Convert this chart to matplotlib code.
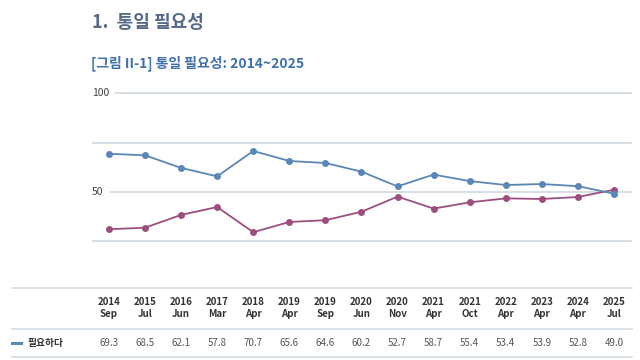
import matplotlib.pyplot as plt
from matplotlib.transforms import blended_transform_factory

plt.rcParams['font.family'] = ['Noto Sans CJK KR', 'DejaVu Sans']

years = ["2014", "2015", "2016", "2017", "2018", "2019", "2019", "2020",
         "2020", "2021", "2021", "2022", "2023", "2024", "2025"]
months = ["Sep", "Jul", "Jun", "Mar", "Apr", "Apr", "Sep", "Jun",
          "Nov", "Apr", "Oct", "Apr", "Apr", "Apr", "Jul"]
need = [69.3, 68.5, 62.1, 57.8, 70.7, 65.6, 64.6, 60.2,
        52.7, 58.7, 55.4, 53.4, 53.9, 52.8, 49.0]
no_need = [30.9, 31.7, 38.2, 42.2, 29.4, 34.6, 35.5, 39.8,
           47.5, 41.4, 44.6, 46.6, 46.3, 47.3, 51.0]

blue = "#5b87b6"
purple = "#9c4f7e"
grid = "#d0d8e1"

fig = plt.figure(figsize=(6.4, 3.6), dpi=100)
fig.text(92 / 640, 1 - 22 / 360, "1.  통일 필요성", fontsize=13, fontweight="bold",
         color="#56698a", va="center", ha="left")
fig.text(91 / 640, 1 - 63 / 360, "[그림 II-1] 통일 필요성: 2014~2025", fontsize=10,
         fontweight="bold", color="#3f70ae", va="center", ha="left")

ax = fig.add_axes([92 / 640, 0.3036, 540 / 640, 0.4644])
x = list(range(len(need)))
ax.set_xlim(-0.47, 14.5)
ax.set_ylim(20, 105)
ax.axis("off")

ax.hlines([75, 25], -0.47, 14.5, color=grid, lw=1.2)
ax.hlines(100, 0.17, 14.5, color=grid, lw=1.2)
ax.hlines(50, 0.03, 14.5, color=grid, lw=1.2)
ax.text(-0.47, 100, "100", fontsize=7.5, color="#444444", va="center", ha="left")
ax.text(-0.47, 50, "50", fontsize=7.5, color="#444444", va="center", ha="left")

ax.plot(x, no_need, color=purple, lw=1.3, marker="o", ms=4)
ax.plot(x, need, color=blue, lw=1.3, marker="o", ms=4)

# table below chart
tr = blended_transform_factory(ax.transData, fig.transFigure)
for yy in [288, 329, 357]:
    fig.add_artist(plt.Line2D([12 / 640, 632 / 640], [1 - yy / 360] * 2,
                              color="#d5dde6", lw=1.2))
for i in x:
    ax.text(i, 1 - 302 / 360, years[i], transform=tr, fontsize=7,
            fontweight="bold", color="#333333", ha="center", va="center")
    ax.text(i, 1 - 314 / 360, months[i], transform=tr, fontsize=7,
            fontweight="bold", color="#333333", ha="center", va="center")
    ax.text(i, 1 - 343 / 360, f"{need[i]:.1f}", transform=tr, fontsize=7,
            color="#555555", ha="center", va="center")

fig.add_artist(plt.Line2D([12 / 640, 21 / 640], [1 - 343 / 360] * 2,
                          color=blue, lw=2.2))
fig.text(27 / 640, 1 - 343 / 360, "필요하다", fontsize=7, fontweight="bold",
         color="#333333", ha="left", va="center")

fig.savefig("out.png", dpi=100, facecolor="white")
